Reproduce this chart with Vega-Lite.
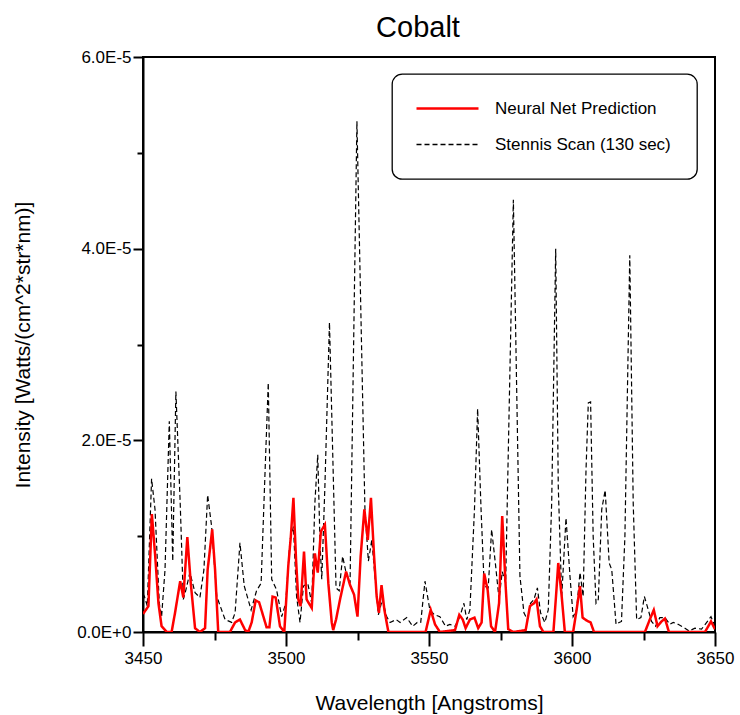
{
  "$schema": "https://vega.github.io/schema/vega-lite/v6.json",
  "width": 572,
  "height": 575,
  "autosize": {"type": "none"},
  "padding": {"left": 143, "top": 57, "right": 25, "bottom": 83},
  "background": "white",
  "title": {"text": "Cobalt", "fontSize": 29, "font": "Liberation Sans", "fontWeight": "normal", "color": "black", "frame": "group", "anchor": "middle", "offset": 5, "dx": -11},
  "config": {
    "font": "Liberation Sans",
    "view": {"stroke": "black", "strokeWidth": 2},
    "axis": {"grid": false, "domainColor": "black", "domainWidth": 2, "tickColor": "black", "tickWidth": 2, "labelColor": "black", "titleColor": "black", "labelFont": "Liberation Sans", "titleFont": "Liberation Sans", "labelFontSize": 17, "titleFontSize": 21, "titleFontWeight": "normal", "labelFlush": false, "labelOverlap": false},
    "legend": {"orient": "none", "legendX": 249, "legendY": 17, "strokeColor": "black", "strokeWidth": 1.3, "cornerRadius": 10, "padding": 26, "fillColor": "white", "symbolType": "stroke", "symbolSize": 3844, "symbolStrokeWidth": 2, "symbolOffset": 21, "labelFont": "Liberation Sans", "labelFontSize": 17, "labelColor": "black", "labelOffset": 39, "labelLimit": 400, "rowPadding": 18}
  },
  "datasets": {
    "stennis": [
      {"wavelength": 3450.0, "intensity": 0.40e-5, "series": "Stennis Scan (130 sec)"},
      {"wavelength": 3450.5, "intensity": 0.37e-5, "series": "Stennis Scan (130 sec)"},
      {"wavelength": 3451.5, "intensity": 0.27e-5, "series": "Stennis Scan (130 sec)"},
      {"wavelength": 3453.0, "intensity": 1.60e-5, "series": "Stennis Scan (130 sec)"},
      {"wavelength": 3454.2, "intensity": 1.28e-5, "series": "Stennis Scan (130 sec)"},
      {"wavelength": 3455.7, "intensity": 0.30e-5, "series": "Stennis Scan (130 sec)"},
      {"wavelength": 3456.5, "intensity": 0.16e-5, "series": "Stennis Scan (130 sec)"},
      {"wavelength": 3457.7, "intensity": 0.65e-5, "series": "Stennis Scan (130 sec)"},
      {"wavelength": 3459.2, "intensity": 2.20e-5, "series": "Stennis Scan (130 sec)"},
      {"wavelength": 3460.4, "intensity": 0.74e-5, "series": "Stennis Scan (130 sec)"},
      {"wavelength": 3461.5, "intensity": 2.51e-5, "series": "Stennis Scan (130 sec)"},
      {"wavelength": 3463.0, "intensity": 1.35e-5, "series": "Stennis Scan (130 sec)"},
      {"wavelength": 3464.1, "intensity": 0.34e-5, "series": "Stennis Scan (130 sec)"},
      {"wavelength": 3465.0, "intensity": 0.44e-5, "series": "Stennis Scan (130 sec)"},
      {"wavelength": 3466.4, "intensity": 0.62e-5, "series": "Stennis Scan (130 sec)"},
      {"wavelength": 3468.2, "intensity": 0.41e-5, "series": "Stennis Scan (130 sec)"},
      {"wavelength": 3469.9, "intensity": 0.36e-5, "series": "Stennis Scan (130 sec)"},
      {"wavelength": 3471.3, "intensity": 0.65e-5, "series": "Stennis Scan (130 sec)"},
      {"wavelength": 3472.6, "intensity": 1.43e-5, "series": "Stennis Scan (130 sec)"},
      {"wavelength": 3474.0, "intensity": 1.10e-5, "series": "Stennis Scan (130 sec)"},
      {"wavelength": 3475.8, "intensity": 0.37e-5, "series": "Stennis Scan (130 sec)"},
      {"wavelength": 3478.7, "intensity": 0.13e-5, "series": "Stennis Scan (130 sec)"},
      {"wavelength": 3481.0, "intensity": 0.10e-5, "series": "Stennis Scan (130 sec)"},
      {"wavelength": 3482.2, "intensity": 0.20e-5, "series": "Stennis Scan (130 sec)"},
      {"wavelength": 3483.9, "intensity": 0.93e-5, "series": "Stennis Scan (130 sec)"},
      {"wavelength": 3485.4, "intensity": 0.48e-5, "series": "Stennis Scan (130 sec)"},
      {"wavelength": 3487.8, "intensity": 0.23e-5, "series": "Stennis Scan (130 sec)"},
      {"wavelength": 3489.7, "intensity": 0.43e-5, "series": "Stennis Scan (130 sec)"},
      {"wavelength": 3491.3, "intensity": 0.51e-5, "series": "Stennis Scan (130 sec)"},
      {"wavelength": 3492.7, "intensity": 1.69e-5, "series": "Stennis Scan (130 sec)"},
      {"wavelength": 3493.8, "intensity": 2.60e-5, "series": "Stennis Scan (130 sec)"},
      {"wavelength": 3495.0, "intensity": 0.55e-5, "series": "Stennis Scan (130 sec)"},
      {"wavelength": 3496.7, "intensity": 0.44e-5, "series": "Stennis Scan (130 sec)"},
      {"wavelength": 3498.5, "intensity": 0.16e-5, "series": "Stennis Scan (130 sec)"},
      {"wavelength": 3499.9, "intensity": 0.30e-5, "series": "Stennis Scan (130 sec)"},
      {"wavelength": 3501.4, "intensity": 0.96e-5, "series": "Stennis Scan (130 sec)"},
      {"wavelength": 3502.6, "intensity": 1.10e-5, "series": "Stennis Scan (130 sec)"},
      {"wavelength": 3503.7, "intensity": 0.37e-5, "series": "Stennis Scan (130 sec)"},
      {"wavelength": 3504.9, "intensity": 0.10e-5, "series": "Stennis Scan (130 sec)"},
      {"wavelength": 3506.1, "intensity": 0.48e-5, "series": "Stennis Scan (130 sec)"},
      {"wavelength": 3507.6, "intensity": 0.51e-5, "series": "Stennis Scan (130 sec)"},
      {"wavelength": 3509.0, "intensity": 0.30e-5, "series": "Stennis Scan (130 sec)"},
      {"wavelength": 3510.1, "intensity": 1.35e-5, "series": "Stennis Scan (130 sec)"},
      {"wavelength": 3511.1, "intensity": 1.85e-5, "series": "Stennis Scan (130 sec)"},
      {"wavelength": 3511.9, "intensity": 0.93e-5, "series": "Stennis Scan (130 sec)"},
      {"wavelength": 3512.5, "intensity": 0.55e-5, "series": "Stennis Scan (130 sec)"},
      {"wavelength": 3513.6, "intensity": 1.52e-5, "series": "Stennis Scan (130 sec)"},
      {"wavelength": 3515.2, "intensity": 3.23e-5, "series": "Stennis Scan (130 sec)"},
      {"wavelength": 3517.5, "intensity": 0.46e-5, "series": "Stennis Scan (130 sec)"},
      {"wavelength": 3518.6, "intensity": 0.43e-5, "series": "Stennis Scan (130 sec)"},
      {"wavelength": 3519.8, "intensity": 0.79e-5, "series": "Stennis Scan (130 sec)"},
      {"wavelength": 3521.0, "intensity": 0.62e-5, "series": "Stennis Scan (130 sec)"},
      {"wavelength": 3522.4, "intensity": 0.51e-5, "series": "Stennis Scan (130 sec)"},
      {"wavelength": 3524.8, "intensity": 5.33e-5, "series": "Stennis Scan (130 sec)"},
      {"wavelength": 3527.6, "intensity": 1.28e-5, "series": "Stennis Scan (130 sec)"},
      {"wavelength": 3528.8, "intensity": 0.74e-5, "series": "Stennis Scan (130 sec)"},
      {"wavelength": 3530.0, "intensity": 0.96e-5, "series": "Stennis Scan (130 sec)"},
      {"wavelength": 3531.1, "intensity": 0.58e-5, "series": "Stennis Scan (130 sec)"},
      {"wavelength": 3532.3, "intensity": 0.18e-5, "series": "Stennis Scan (130 sec)"},
      {"wavelength": 3533.7, "intensity": 0.34e-5, "series": "Stennis Scan (130 sec)"},
      {"wavelength": 3535.2, "intensity": 0.16e-5, "series": "Stennis Scan (130 sec)"},
      {"wavelength": 3536.4, "intensity": 0.10e-5, "series": "Stennis Scan (130 sec)"},
      {"wavelength": 3538.5, "intensity": 0.13e-5, "series": "Stennis Scan (130 sec)"},
      {"wavelength": 3539.9, "intensity": 0.10e-5, "series": "Stennis Scan (130 sec)"},
      {"wavelength": 3542.2, "intensity": 0.15e-5, "series": "Stennis Scan (130 sec)"},
      {"wavelength": 3544.3, "intensity": 0.06e-5, "series": "Stennis Scan (130 sec)"},
      {"wavelength": 3545.9, "intensity": 0.10e-5, "series": "Stennis Scan (130 sec)"},
      {"wavelength": 3547.1, "intensity": 0.10e-5, "series": "Stennis Scan (130 sec)"},
      {"wavelength": 3548.6, "intensity": 0.53e-5, "series": "Stennis Scan (130 sec)"},
      {"wavelength": 3550.3, "intensity": 0.23e-5, "series": "Stennis Scan (130 sec)"},
      {"wavelength": 3551.9, "intensity": 0.18e-5, "series": "Stennis Scan (130 sec)"},
      {"wavelength": 3553.8, "intensity": 0.16e-5, "series": "Stennis Scan (130 sec)"},
      {"wavelength": 3555.8, "intensity": 0.06e-5, "series": "Stennis Scan (130 sec)"},
      {"wavelength": 3557.3, "intensity": 0.08e-5, "series": "Stennis Scan (130 sec)"},
      {"wavelength": 3559.1, "intensity": 0.06e-5, "series": "Stennis Scan (130 sec)"},
      {"wavelength": 3560.8, "intensity": 0.16e-5, "series": "Stennis Scan (130 sec)"},
      {"wavelength": 3562.2, "intensity": 0.30e-5, "series": "Stennis Scan (130 sec)"},
      {"wavelength": 3563.2, "intensity": 0.13e-5, "series": "Stennis Scan (130 sec)"},
      {"wavelength": 3564.3, "intensity": 0.23e-5, "series": "Stennis Scan (130 sec)"},
      {"wavelength": 3565.9, "intensity": 1.28e-5, "series": "Stennis Scan (130 sec)"},
      {"wavelength": 3567.0, "intensity": 2.33e-5, "series": "Stennis Scan (130 sec)"},
      {"wavelength": 3568.2, "intensity": 1.28e-5, "series": "Stennis Scan (130 sec)"},
      {"wavelength": 3569.3, "intensity": 0.48e-5, "series": "Stennis Scan (130 sec)"},
      {"wavelength": 3570.7, "intensity": 0.46e-5, "series": "Stennis Scan (130 sec)"},
      {"wavelength": 3571.9, "intensity": 1.07e-5, "series": "Stennis Scan (130 sec)"},
      {"wavelength": 3573.3, "intensity": 0.69e-5, "series": "Stennis Scan (130 sec)"},
      {"wavelength": 3574.5, "intensity": 0.34e-5, "series": "Stennis Scan (130 sec)"},
      {"wavelength": 3575.6, "intensity": 0.63e-5, "series": "Stennis Scan (130 sec)"},
      {"wavelength": 3576.8, "intensity": 0.51e-5, "series": "Stennis Scan (130 sec)"},
      {"wavelength": 3579.5, "intensity": 4.51e-5, "series": "Stennis Scan (130 sec)"},
      {"wavelength": 3581.8, "intensity": 0.58e-5, "series": "Stennis Scan (130 sec)"},
      {"wavelength": 3583.2, "intensity": 0.20e-5, "series": "Stennis Scan (130 sec)"},
      {"wavelength": 3584.4, "intensity": 0.13e-5, "series": "Stennis Scan (130 sec)"},
      {"wavelength": 3585.5, "intensity": 0.30e-5, "series": "Stennis Scan (130 sec)"},
      {"wavelength": 3586.7, "intensity": 0.34e-5, "series": "Stennis Scan (130 sec)"},
      {"wavelength": 3587.9, "intensity": 0.46e-5, "series": "Stennis Scan (130 sec)"},
      {"wavelength": 3589.0, "intensity": 0.20e-5, "series": "Stennis Scan (130 sec)"},
      {"wavelength": 3590.5, "intensity": 0.10e-5, "series": "Stennis Scan (130 sec)"},
      {"wavelength": 3591.7, "intensity": 0.23e-5, "series": "Stennis Scan (130 sec)"},
      {"wavelength": 3592.9, "intensity": 1.35e-5, "series": "Stennis Scan (130 sec)"},
      {"wavelength": 3594.3, "intensity": 4.00e-5, "series": "Stennis Scan (130 sec)"},
      {"wavelength": 3595.2, "intensity": 1.52e-5, "series": "Stennis Scan (130 sec)"},
      {"wavelength": 3596.4, "intensity": 0.37e-5, "series": "Stennis Scan (130 sec)"},
      {"wavelength": 3597.9, "intensity": 1.19e-5, "series": "Stennis Scan (130 sec)"},
      {"wavelength": 3599.3, "intensity": 0.58e-5, "series": "Stennis Scan (130 sec)"},
      {"wavelength": 3600.4, "intensity": 0.16e-5, "series": "Stennis Scan (130 sec)"},
      {"wavelength": 3601.6, "intensity": 0.23e-5, "series": "Stennis Scan (130 sec)"},
      {"wavelength": 3602.8, "intensity": 0.62e-5, "series": "Stennis Scan (130 sec)"},
      {"wavelength": 3603.9, "intensity": 0.37e-5, "series": "Stennis Scan (130 sec)"},
      {"wavelength": 3604.9, "intensity": 1.69e-5, "series": "Stennis Scan (130 sec)"},
      {"wavelength": 3605.7, "intensity": 2.39e-5, "series": "Stennis Scan (130 sec)"},
      {"wavelength": 3606.5, "intensity": 2.40e-5, "series": "Stennis Scan (130 sec)"},
      {"wavelength": 3607.4, "intensity": 1.00e-5, "series": "Stennis Scan (130 sec)"},
      {"wavelength": 3608.4, "intensity": 0.30e-5, "series": "Stennis Scan (130 sec)"},
      {"wavelength": 3609.2, "intensity": 0.34e-5, "series": "Stennis Scan (130 sec)"},
      {"wavelength": 3610.4, "intensity": 1.28e-5, "series": "Stennis Scan (130 sec)"},
      {"wavelength": 3611.6, "intensity": 1.48e-5, "series": "Stennis Scan (130 sec)"},
      {"wavelength": 3613.0, "intensity": 0.72e-5, "series": "Stennis Scan (130 sec)"},
      {"wavelength": 3613.9, "intensity": 0.65e-5, "series": "Stennis Scan (130 sec)"},
      {"wavelength": 3615.4, "intensity": 0.08e-5, "series": "Stennis Scan (130 sec)"},
      {"wavelength": 3616.5, "intensity": 0.10e-5, "series": "Stennis Scan (130 sec)"},
      {"wavelength": 3617.3, "intensity": 0.11e-5, "series": "Stennis Scan (130 sec)"},
      {"wavelength": 3618.5, "intensity": 1.00e-5, "series": "Stennis Scan (130 sec)"},
      {"wavelength": 3620.2, "intensity": 3.93e-5, "series": "Stennis Scan (130 sec)"},
      {"wavelength": 3621.4, "intensity": 1.35e-5, "series": "Stennis Scan (130 sec)"},
      {"wavelength": 3622.6, "intensity": 0.13e-5, "series": "Stennis Scan (130 sec)"},
      {"wavelength": 3624.1, "intensity": 0.15e-5, "series": "Stennis Scan (130 sec)"},
      {"wavelength": 3625.3, "intensity": 0.37e-5, "series": "Stennis Scan (130 sec)"},
      {"wavelength": 3626.3, "intensity": 0.27e-5, "series": "Stennis Scan (130 sec)"},
      {"wavelength": 3627.8, "intensity": 0.11e-5, "series": "Stennis Scan (130 sec)"},
      {"wavelength": 3629.2, "intensity": 0.06e-5, "series": "Stennis Scan (130 sec)"},
      {"wavelength": 3630.7, "intensity": 0.15e-5, "series": "Stennis Scan (130 sec)"},
      {"wavelength": 3632.5, "intensity": 0.15e-5, "series": "Stennis Scan (130 sec)"},
      {"wavelength": 3634.2, "intensity": 0.08e-5, "series": "Stennis Scan (130 sec)"},
      {"wavelength": 3635.4, "intensity": 0.10e-5, "series": "Stennis Scan (130 sec)"},
      {"wavelength": 3637.1, "intensity": 0.08e-5, "series": "Stennis Scan (130 sec)"},
      {"wavelength": 3639.5, "intensity": 0.04e-5, "series": "Stennis Scan (130 sec)"},
      {"wavelength": 3640.9, "intensity": 0.01e-5, "series": "Stennis Scan (130 sec)"},
      {"wavelength": 3643.0, "intensity": 0.04e-5, "series": "Stennis Scan (130 sec)"},
      {"wavelength": 3645.3, "intensity": 0.03e-5, "series": "Stennis Scan (130 sec)"},
      {"wavelength": 3647.1, "intensity": 0.10e-5, "series": "Stennis Scan (130 sec)"},
      {"wavelength": 3648.6, "intensity": 0.16e-5, "series": "Stennis Scan (130 sec)"},
      {"wavelength": 3650.0, "intensity": 0.06e-5, "series": "Stennis Scan (130 sec)"}
    ],
    "neural": [
      {"wavelength": 3450.0, "intensity": 0.21e-5, "series": "Neural Net Prediction"},
      {"wavelength": 3450.3, "intensity": 0.20e-5, "series": "Neural Net Prediction"},
      {"wavelength": 3451.9, "intensity": 0.27e-5, "series": "Neural Net Prediction"},
      {"wavelength": 3453.1, "intensity": 1.23e-5, "series": "Neural Net Prediction"},
      {"wavelength": 3454.2, "intensity": 0.82e-5, "series": "Neural Net Prediction"},
      {"wavelength": 3455.4, "intensity": 0.30e-5, "series": "Neural Net Prediction"},
      {"wavelength": 3456.5, "intensity": 0.06e-5, "series": "Neural Net Prediction"},
      {"wavelength": 3458.3, "intensity": 0, "series": "Neural Net Prediction"},
      {"wavelength": 3460.0, "intensity": 0, "series": "Neural Net Prediction"},
      {"wavelength": 3461.2, "intensity": 0.20e-5, "series": "Neural Net Prediction"},
      {"wavelength": 3463.0, "intensity": 0.53e-5, "series": "Neural Net Prediction"},
      {"wavelength": 3464.1, "intensity": 0.36e-5, "series": "Neural Net Prediction"},
      {"wavelength": 3465.5, "intensity": 0.99e-5, "series": "Neural Net Prediction"},
      {"wavelength": 3466.7, "intensity": 0.51e-5, "series": "Neural Net Prediction"},
      {"wavelength": 3468.2, "intensity": 0.04e-5, "series": "Neural Net Prediction"},
      {"wavelength": 3469.9, "intensity": 0, "series": "Neural Net Prediction"},
      {"wavelength": 3471.7, "intensity": 0.04e-5, "series": "Neural Net Prediction"},
      {"wavelength": 3472.6, "intensity": 0.65e-5, "series": "Neural Net Prediction"},
      {"wavelength": 3474.2, "intensity": 1.07e-5, "series": "Neural Net Prediction"},
      {"wavelength": 3475.2, "intensity": 0.65e-5, "series": "Neural Net Prediction"},
      {"wavelength": 3476.3, "intensity": 0, "series": "Neural Net Prediction"},
      {"wavelength": 3480.4, "intensity": 0, "series": "Neural Net Prediction"},
      {"wavelength": 3482.2, "intensity": 0.10e-5, "series": "Neural Net Prediction"},
      {"wavelength": 3483.3, "intensity": 0.12e-5, "series": "Neural Net Prediction"},
      {"wavelength": 3483.9, "intensity": 0.13e-5, "series": "Neural Net Prediction"},
      {"wavelength": 3485.7, "intensity": 0.02e-5, "series": "Neural Net Prediction"},
      {"wavelength": 3486.8, "intensity": 0, "series": "Neural Net Prediction"},
      {"wavelength": 3488.0, "intensity": 0.10e-5, "series": "Neural Net Prediction"},
      {"wavelength": 3489.4, "intensity": 0.33e-5, "series": "Neural Net Prediction"},
      {"wavelength": 3490.6, "intensity": 0.31e-5, "series": "Neural Net Prediction"},
      {"wavelength": 3492.1, "intensity": 0.16e-5, "series": "Neural Net Prediction"},
      {"wavelength": 3493.2, "intensity": 0.05e-5, "series": "Neural Net Prediction"},
      {"wavelength": 3494.2, "intensity": 0.05e-5, "series": "Neural Net Prediction"},
      {"wavelength": 3495.3, "intensity": 0.37e-5, "series": "Neural Net Prediction"},
      {"wavelength": 3496.4, "intensity": 0.36e-5, "series": "Neural Net Prediction"},
      {"wavelength": 3497.9, "intensity": 0.06e-5, "series": "Neural Net Prediction"},
      {"wavelength": 3499.4, "intensity": 0, "series": "Neural Net Prediction"},
      {"wavelength": 3500.8, "intensity": 0.69e-5, "series": "Neural Net Prediction"},
      {"wavelength": 3501.7, "intensity": 1.00e-5, "series": "Neural Net Prediction"},
      {"wavelength": 3502.6, "intensity": 1.40e-5, "series": "Neural Net Prediction"},
      {"wavelength": 3503.5, "intensity": 0.76e-5, "series": "Neural Net Prediction"},
      {"wavelength": 3504.3, "intensity": 0.34e-5, "series": "Neural Net Prediction"},
      {"wavelength": 3505.1, "intensity": 0.27e-5, "series": "Neural Net Prediction"},
      {"wavelength": 3506.3, "intensity": 0.84e-5, "series": "Neural Net Prediction"},
      {"wavelength": 3507.2, "intensity": 0.34e-5, "series": "Neural Net Prediction"},
      {"wavelength": 3508.0, "intensity": 0.30e-5, "series": "Neural Net Prediction"},
      {"wavelength": 3509.0, "intensity": 0.25e-5, "series": "Neural Net Prediction"},
      {"wavelength": 3510.1, "intensity": 0.82e-5, "series": "Neural Net Prediction"},
      {"wavelength": 3511.1, "intensity": 0.62e-5, "series": "Neural Net Prediction"},
      {"wavelength": 3512.2, "intensity": 1.05e-5, "series": "Neural Net Prediction"},
      {"wavelength": 3513.6, "intensity": 1.12e-5, "series": "Neural Net Prediction"},
      {"wavelength": 3514.8, "intensity": 0.51e-5, "series": "Neural Net Prediction"},
      {"wavelength": 3516.0, "intensity": 0.10e-5, "series": "Neural Net Prediction"},
      {"wavelength": 3516.5, "intensity": 0.02e-5, "series": "Neural Net Prediction"},
      {"wavelength": 3517.5, "intensity": 0.13e-5, "series": "Neural Net Prediction"},
      {"wavelength": 3518.9, "intensity": 0.34e-5, "series": "Neural Net Prediction"},
      {"wavelength": 3521.0, "intensity": 0.63e-5, "series": "Neural Net Prediction"},
      {"wavelength": 3522.4, "intensity": 0.49e-5, "series": "Neural Net Prediction"},
      {"wavelength": 3523.8, "intensity": 0.39e-5, "series": "Neural Net Prediction"},
      {"wavelength": 3525.0, "intensity": 0.16e-5, "series": "Neural Net Prediction"},
      {"wavelength": 3526.1, "intensity": 0.79e-5, "series": "Neural Net Prediction"},
      {"wavelength": 3527.4, "intensity": 1.28e-5, "series": "Neural Net Prediction"},
      {"wavelength": 3528.6, "intensity": 0.96e-5, "series": "Neural Net Prediction"},
      {"wavelength": 3529.7, "intensity": 1.40e-5, "series": "Neural Net Prediction"},
      {"wavelength": 3530.8, "intensity": 0.79e-5, "series": "Neural Net Prediction"},
      {"wavelength": 3531.7, "intensity": 0.37e-5, "series": "Neural Net Prediction"},
      {"wavelength": 3532.5, "intensity": 0.20e-5, "series": "Neural Net Prediction"},
      {"wavelength": 3533.4, "intensity": 0.49e-5, "series": "Neural Net Prediction"},
      {"wavelength": 3534.4, "intensity": 0.23e-5, "series": "Neural Net Prediction"},
      {"wavelength": 3535.8, "intensity": 0, "series": "Neural Net Prediction"},
      {"wavelength": 3548.8, "intensity": 0, "series": "Neural Net Prediction"},
      {"wavelength": 3550.6, "intensity": 0.23e-5, "series": "Neural Net Prediction"},
      {"wavelength": 3552.1, "intensity": 0.08e-5, "series": "Neural Net Prediction"},
      {"wavelength": 3553.8, "intensity": 0, "series": "Neural Net Prediction"},
      {"wavelength": 3559.1, "intensity": 0.02e-5, "series": "Neural Net Prediction"},
      {"wavelength": 3560.6, "intensity": 0.18e-5, "series": "Neural Net Prediction"},
      {"wavelength": 3561.8, "intensity": 0.13e-5, "series": "Neural Net Prediction"},
      {"wavelength": 3562.8, "intensity": 0.04e-5, "series": "Neural Net Prediction"},
      {"wavelength": 3564.3, "intensity": 0.13e-5, "series": "Neural Net Prediction"},
      {"wavelength": 3565.9, "intensity": 0.15e-5, "series": "Neural Net Prediction"},
      {"wavelength": 3567.2, "intensity": 0.04e-5, "series": "Neural Net Prediction"},
      {"wavelength": 3568.4, "intensity": 0.10e-5, "series": "Neural Net Prediction"},
      {"wavelength": 3569.3, "intensity": 0.61e-5, "series": "Neural Net Prediction"},
      {"wavelength": 3570.5, "intensity": 0.44e-5, "series": "Neural Net Prediction"},
      {"wavelength": 3571.7, "intensity": 0.06e-5, "series": "Neural Net Prediction"},
      {"wavelength": 3573.1, "intensity": 0, "series": "Neural Net Prediction"},
      {"wavelength": 3574.5, "intensity": 0.30e-5, "series": "Neural Net Prediction"},
      {"wavelength": 3575.6, "intensity": 1.21e-5, "series": "Neural Net Prediction"},
      {"wavelength": 3576.8, "intensity": 0.48e-5, "series": "Neural Net Prediction"},
      {"wavelength": 3577.7, "intensity": 0.03e-5, "series": "Neural Net Prediction"},
      {"wavelength": 3579.5, "intensity": 0, "series": "Neural Net Prediction"},
      {"wavelength": 3583.8, "intensity": 0.02e-5, "series": "Neural Net Prediction"},
      {"wavelength": 3585.3, "intensity": 0.27e-5, "series": "Neural Net Prediction"},
      {"wavelength": 3586.7, "intensity": 0.30e-5, "series": "Neural Net Prediction"},
      {"wavelength": 3587.6, "intensity": 0.34e-5, "series": "Neural Net Prediction"},
      {"wavelength": 3588.8, "intensity": 0.06e-5, "series": "Neural Net Prediction"},
      {"wavelength": 3590.0, "intensity": 0, "series": "Neural Net Prediction"},
      {"wavelength": 3593.5, "intensity": 0, "series": "Neural Net Prediction"},
      {"wavelength": 3594.4, "intensity": 0.37e-5, "series": "Neural Net Prediction"},
      {"wavelength": 3595.2, "intensity": 0.72e-5, "series": "Neural Net Prediction"},
      {"wavelength": 3596.4, "intensity": 0.37e-5, "series": "Neural Net Prediction"},
      {"wavelength": 3597.5, "intensity": 0, "series": "Neural Net Prediction"},
      {"wavelength": 3600.4, "intensity": 0, "series": "Neural Net Prediction"},
      {"wavelength": 3601.6, "intensity": 0.23e-5, "series": "Neural Net Prediction"},
      {"wavelength": 3602.8, "intensity": 0.48e-5, "series": "Neural Net Prediction"},
      {"wavelength": 3603.7, "intensity": 0.15e-5, "series": "Neural Net Prediction"},
      {"wavelength": 3605.1, "intensity": 0.12e-5, "series": "Neural Net Prediction"},
      {"wavelength": 3606.5, "intensity": 0.10e-5, "series": "Neural Net Prediction"},
      {"wavelength": 3607.7, "intensity": 0, "series": "Neural Net Prediction"},
      {"wavelength": 3625.5, "intensity": 0, "series": "Neural Net Prediction"},
      {"wavelength": 3627.2, "intensity": 0.13e-5, "series": "Neural Net Prediction"},
      {"wavelength": 3628.6, "intensity": 0.23e-5, "series": "Neural Net Prediction"},
      {"wavelength": 3629.9, "intensity": 0.06e-5, "series": "Neural Net Prediction"},
      {"wavelength": 3631.3, "intensity": 0.11e-5, "series": "Neural Net Prediction"},
      {"wavelength": 3632.5, "intensity": 0.14e-5, "series": "Neural Net Prediction"},
      {"wavelength": 3633.9, "intensity": 0, "series": "Neural Net Prediction"},
      {"wavelength": 3646.5, "intensity": 0, "series": "Neural Net Prediction"},
      {"wavelength": 3648.6, "intensity": 0.11e-5, "series": "Neural Net Prediction"},
      {"wavelength": 3650.0, "intensity": 0.03e-5, "series": "Neural Net Prediction"}
    ]
  },
  "encoding": {
    "x": {
      "field": "wavelength", "type": "quantitative",
      "scale": {"domain": [3450, 3650], "nice": false, "zero": false},
      "axis": {
        "title": "Wavelength [Angstroms]",
        "values": [3450, 3475, 3500, 3525, 3550, 3575, 3600, 3625, 3650],
        "format": "d",
        "labelExpr": "datum.value % 50 === 0 ? datum.label : ''",
        "tickSize": {"condition": {"test": "datum.value % 50 === 0", "value": 14}, "value": 8},
        "labelPadding": 4,
        "titlePadding": 26
      }
    },
    "y": {
      "field": "intensity", "type": "quantitative",
      "scale": {"domain": [0, 0.00006], "nice": false, "zero": true},
      "axis": {
        "title": "Intensity [Watts/(cm^2*str*nm)]",
        "values": [0, 0.00001, 0.00002, 0.00003, 0.00004, 0.00005, 0.00006],
        "labelExpr": "round(datum.value * 100000) % 2 === 0 ? (datum.value === 0 ? '0.0E+0' : format(datum.value * 100000, '.1f') + 'E-5') : ''",
        "tickSize": {"condition": {"test": "round(datum.value * 100000) % 2 === 0", "value": 10}, "value": 6},
        "labelPadding": 2,
        "titlePadding": 43
      }
    },
    "color": {
      "field": "series", "type": "nominal", "title": null,
      "scale": {"domain": ["Neural Net Prediction", "Stennis Scan (130 sec)"], "range": ["#ff0000", "#000000"]},
      "legend": {"encode": {"symbols": {"update": {"strokeWidth": {"signal": "datum.value === 'Neural Net Prediction' ? 2.5 : 1.3"}}}}}
    },
    "strokeDash": {
      "field": "series", "type": "nominal", "title": null,
      "scale": {"domain": ["Neural Net Prediction", "Stennis Scan (130 sec)"], "range": [[1, 0], [5, 3]]}
    }
  },
  "layer": [
    {"data": {"name": "stennis"}, "mark": {"type": "line", "strokeWidth": 1.2, "clip": true}},
    {"data": {"name": "neural"}, "mark": {"type": "line", "strokeWidth": 2.5, "clip": true}}
  ]
}
